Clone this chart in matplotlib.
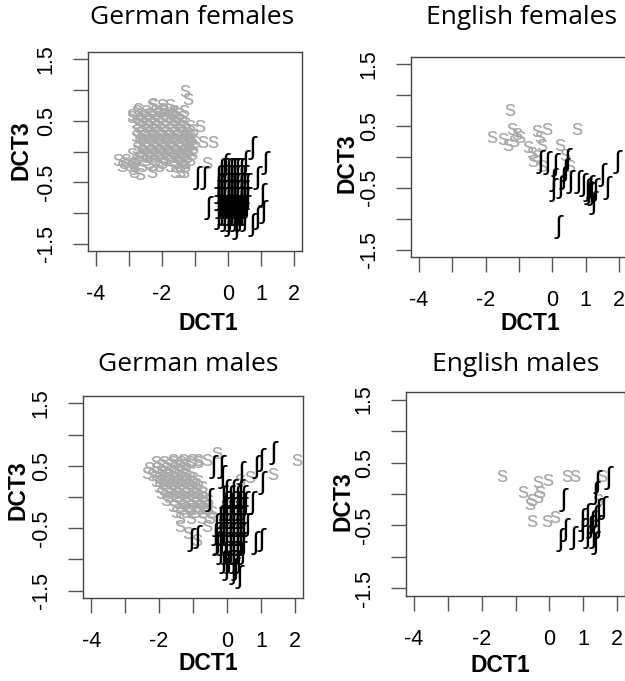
import matplotlib
matplotlib.use("Agg")
import matplotlib.pyplot as plt

W, H = 625, 681
GREY = "#a8a8a8"
FRAME = "#444444"
SANS = ["Liberation Sans", "DejaVu Sans"]

# German females: "s" tokens (grey), rows of (DCT3, [DCT1 ...]) plus loose points
gf_s_rows = [
    (0.75, [-2.3, -2.0, -1.75]),
    (0.65, [-2.75, -2.5, -2.2, -1.95, -1.65, -1.35]),
    (0.60, [-2.65, -2.4, -2.15, -1.9, -1.7, -1.5]),
    (0.55, [-2.9, -2.6, -2.35, -2.1, -1.85, -1.6, -1.4]),
    (0.50, [-2.7, -2.45, -2.2, -1.95, -1.7, -1.45]),
    (0.45, [-2.8, -2.55, -2.3, -2.05, -1.8, -1.55, -1.3]),
    (0.40, [-2.65, -2.4, -2.15, -1.9, -1.65, -1.4, -1.15]),
    (0.35, [-2.75, -2.5, -2.25, -2.0, -1.75, -1.5, -1.25, -1.05]),
    (0.30, [-2.7, -2.45, -2.2, -1.95, -1.7, -1.45, -1.25]),
    (0.25, [-2.8, -2.6, -2.35, -2.1, -1.85, -1.6, -1.35, -1.15]),
    (0.20, [-2.6, -2.35, -2.1, -1.85, -1.6, -1.35, -1.1]),
    (0.15, [-2.7, -2.45, -2.2, -1.95, -1.7, -1.45, -1.2, -1.0]),
    (0.10, [-2.6, -2.35, -2.1, -1.85, -1.6, -1.35, -1.15]),
    (0.05, [-2.75, -2.5, -2.25, -2.0, -1.75, -1.5, -1.25, -1.05]),
    (0.00, [-2.65, -2.4, -2.15, -1.9, -1.65, -1.4, -1.2]),
    (-0.05, [-2.9, -2.6, -2.35, -2.1, -1.85, -1.6, -1.35, -1.1]),
    (-0.10, [-2.7, -2.45, -2.2, -1.95, -1.7, -1.5, -1.25]),
    (-0.15, [-3.1, -2.8, -2.5, -2.2, -1.9, -1.65, -1.4, -1.15]),
    (-0.20, [-2.85, -2.4, -2.0, -1.55, -1.3]),
    (-0.25, [-3.2, -2.95, -2.6, -2.1, -1.75, -1.45]),
    (-0.35, [-2.85, -2.3, -1.6, -1.35]),
]
gf_s_loose = [
    (-1.30, 0.97), (-1.21, 0.84), (-0.85, 0.40), (-0.76, 0.14), (-0.45, 0.14),
    (-0.64, -0.19), (-3.33, -0.14), (-3.15, -0.19), (-2.88, -0.30), (-2.67, -0.38),
    (-2.27, -0.22), (-1.45, -0.35), (-1.30, -0.25), (-2.91, 0.59), (-2.73, 0.68),
    (-2.27, 0.76), (-1.97, 0.68), (-1.67, 0.64),
]
# German females: esh tokens (black)
gf_sh_rows = [
    (-0.30, [-0.2, -0.1, 0.0, 0.1, 0.2, 0.3, 0.4]),
    (-0.42, [-0.3, -0.2, -0.1, 0.0, 0.1, 0.2, 0.3, 0.4, 0.5]),
    (-0.54, [-0.3, -0.2, -0.1, 0.0, 0.1, 0.2, 0.3, 0.4, 0.5, 0.6]),
    (-0.66, [-0.3, -0.2, -0.1, 0.0, 0.1, 0.2, 0.3, 0.4, 0.5]),
    (-0.78, [-0.3, -0.2, -0.1, 0.0, 0.1, 0.2, 0.3, 0.4, 0.5, 0.6]),
    (-0.90, [-0.25, -0.15, -0.05, 0.05, 0.15, 0.25, 0.35, 0.45, 0.55]),
    (-1.02, [-0.2, -0.1, 0.0, 0.1, 0.2, 0.3, 0.4, 0.5]),
    (-1.12, [-0.1, 0.05, 0.2, 0.35, 0.5]),
]
gf_sh_loose = [
    (0.73, 0.06), (1.12, -0.19), (-0.91, -0.43), (-0.70, -0.43), (-0.60, -0.92),
    (-0.09, -0.22), (0.52, -0.17), (0.88, -0.43), (1.03, -0.71), (1.06, -0.99),
    (0.88, -1.08), (-0.30, -1.08), (0.27, -1.25), (0.00, -1.20), (0.73, -1.20),
]

# English females
ef_s = [
    (-1.26, 0.76), (-1.80, 0.32), (-1.47, 0.28), (-1.32, 0.19), (-1.20, 0.44),
    (-1.05, 0.36), (-0.96, 0.31), (-1.15, 0.25), (-0.45, 0.41), (-0.15, 0.44),
    (0.75, 0.44), (-0.36, 0.31), (-0.72, 0.15), (-0.60, 0.06), (-0.45, 0.00),
    (-0.57, -0.08), (-0.30, 0.19), (0.24, 0.19), (0.39, 0.03), (0.54, -0.16),
    (-0.30, -0.16),
]
ef_sh = [
    (-0.36, -0.08), (-0.15, -0.10), (0.09, -0.13), (0.45, -0.05), (0.39, -0.21),
    (0.03, -0.37), (0.03, -0.53), (0.24, -0.49), (0.54, -0.41), (0.78, -0.41),
    (0.93, -0.45), (1.05, -0.53), (1.14, -0.49), (1.08, -0.58), (1.29, -0.53),
    (1.23, -0.75), (1.50, -0.29), (1.65, -0.50), (1.95, -0.08), (0.18, -1.13),
    (0.33, -0.34), (1.18, -0.60),
]

# German males
gm_s_rows = [
    (0.55, [-2.1, -1.85, -1.6, -1.35, -1.1, -0.85]),
    (0.50, [-1.95, -1.7, -1.45, -1.2]),
    (0.45, [-2.3, -2.05, -1.8, -1.55, -1.3]),
    (0.40, [-2.1, -1.85, -1.6, -1.35, -1.1]),
    (0.35, [-2.2, -1.95, -1.7, -1.45, -1.2]),
    (0.30, [-2.0, -1.75, -1.5, -1.25, -1.0]),
    (0.25, [-2.1, -1.85, -1.6, -1.35, -1.1, -0.85]),
    (0.20, [-1.9, -1.65, -1.4, -1.15, -0.9]),
    (0.15, [-2.0, -1.75, -1.5, -1.25, -1.0, -0.75]),
    (0.10, [-1.85, -1.6, -1.35, -1.1, -0.85]),
    (0.05, [-1.95, -1.7, -1.45, -1.2, -0.95, -0.7]),
    (0.00, [-1.7, -1.45, -1.2, -0.95, -0.7]),
    (-0.05, [-1.8, -1.55, -1.3, -1.05, -0.8, -0.55]),
    (-0.10, [-1.45, -1.2, -0.95, -0.7]),
    (-0.15, [-1.6, -1.35, -1.1, -0.85, -0.6]),
    (-0.20, [-1.3, -1.05, -0.8, -0.55]),
    (-0.25, [-1.5, -1.2, -0.95, -0.7, -0.45]),
    (-0.35, [-1.4, -1.05, -0.75, -0.5]),
]
gm_s_loose = [
    (-1.59, 0.59), (-1.29, 0.59), (-1.03, 0.59), (-0.85, 0.59), (-0.59, 0.59),
    (-0.29, 0.70), (2.06, 0.59), (1.35, 0.36), (0.38, 0.27), (0.68, 0.32),
    (-1.38, -0.48), (-1.15, -0.58), (-0.88, -0.69), (-0.59, -0.48), (-2.35, 0.38),
]
gm_sh_rows = [
    (0.10, [0.0, 0.2, 0.4]),
    (0.00, [-0.1, 0.1, 0.3, 0.5]),
    (-0.10, [-0.05, 0.15, 0.35, 0.55]),
    (-0.20, [-0.1, 0.0, 0.1, 0.2, 0.3, 0.4, 0.5]),
    (-0.32, [-0.2, -0.1, 0.0, 0.1, 0.2, 0.3, 0.4, 0.5]),
    (-0.45, [-0.3, -0.2, -0.1, 0.0, 0.1, 0.2, 0.3, 0.4, 0.5, 0.6]),
    (-0.60, [-0.35, -0.2, -0.1, 0.0, 0.1, 0.2, 0.3, 0.4, 0.5]),
    (-0.75, [-0.3, -0.15, 0.0, 0.1, 0.2, 0.3, 0.4, 0.5]),
    (-0.90, [-0.2, -0.05, 0.1, 0.2, 0.3, 0.45]),
    (-1.05, [-0.1, 0.05, 0.2, 0.35]),
    (-1.15, [0.0, 0.25]),
]
gm_sh_loose = [
    (-0.41, 0.48), (-0.15, 0.48), (0.44, 0.38), (0.88, 0.48), (1.03, 0.59),
    (1.38, 0.70), (1.06, 0.22), (-0.50, -0.05), (-0.88, -0.64), (-1.03, -0.69),
    (-0.29, -0.74), (0.76, -0.10), (1.03, -0.69), (0.85, -0.74), (0.18, -1.22),
    (0.38, -1.28), (-0.12, 0.32),
]

# English males
em_s = [
    (-1.39, 0.27), (-0.33, 0.19), (-0.03, 0.22), (0.53, 0.27), (0.77, 0.27),
    (-0.77, 0.03), (-0.27, 0.02), (-0.50, -0.10), (-0.33, -0.06), (-0.56, -0.17),
    (-0.50, -0.44), (-0.06, -0.44), (0.18, -0.38), (1.57, 0.27), (1.45, -0.10),
]
em_sh = [
    (1.42, 0.19), (1.75, 0.25), (0.41, -0.10), (0.47, -0.57), (0.33, -0.73),
    (0.71, -0.70), (0.98, -0.41), (1.12, -0.33), (1.21, -0.52), (1.12, -0.68),
    (1.30, -0.68), (1.36, -0.78), (1.36, -0.37), (1.45, -0.25), (1.60, -0.22),
    (1.27, -0.44), (1.36, 0.02), (1.45, -0.52), (0.98, -0.57),
]

x_ticks = [-4, -3, -2, -1, 0, 1, 2]
x_labels = ["-4", "", "-2", "", "0", "1", "2"]
y_ticks = [-1.5, -1.0, -0.5, 0.0, 0.5, 1.0, 1.5]
y_labels = ["-1.5", "", "-0.5", "", "0.5", "", "1.5"]


def flatten(rows, loose):
    pts = [(x, y) for y, xs in rows for x in xs]
    return pts + loose


def px(x, y):
    return x / W, 1 - y / H


def draw_panel(fig, box, title, title_xy, xlab_xy, ylab_xy, s_pts, sh_pts):
    l, t, r, b = box
    ax = fig.add_axes([l / W, 1 - b / H, (r - l) / W, (b - t) / H])
    ax.set_xlim(-4.24, 2.24)
    ax.set_ylim(-1.62, 1.62)
    for x, y in s_pts:
        ax.text(x, y, "s", color=GREY, fontsize=16, family=SANS,
                ha="center", va="center", clip_on=True)
    for x, y in sh_pts:
        ax.text(x, y, "\u0283", color="black", fontsize=19, family=SANS,
                ha="center", va="center", clip_on=True)
    ax.set_xticks(x_ticks)
    ax.set_xticklabels(x_labels, family=SANS, fontsize=15.5)
    ax.set_yticks(y_ticks)
    ax.set_yticklabels(y_labels, family=SANS, fontsize=15.5,
                       rotation=90, va="center")
    ax.tick_params(direction="out", length=10.5, width=1, color="#555555")
    ax.tick_params(axis="x", pad=13)
    ax.tick_params(axis="y", pad=12)
    for sp in ax.spines.values():
        sp.set_color(FRAME)
        sp.set_linewidth(1)
    fig.text(*px(*title_xy), title, family="Open Sans", fontsize=19,
             ha="center", va="center")
    fig.text(*px(*xlab_xy), "DCT1", family=SANS, fontsize=16.5,
             fontweight="bold", ha="center", va="center")
    fig.text(*px(*ylab_xy), "DCT3", family=SANS, fontsize=16.5,
             fontweight="bold", ha="center", va="center", rotation=90)
    return ax


fig = plt.figure(figsize=(W / 100, H / 100), dpi=100)

draw_panel(fig, (88, 52, 302, 251), "German females", (192, 18),
           (208, 323), (21, 150),
           flatten(gf_s_rows, gf_s_loose), flatten(gf_sh_rows, gf_sh_loose))
draw_panel(fig, (411, 57, 627, 257), "English females", (521, 18),
           (530, 324), (347, 163), ef_s, ef_sh)
draw_panel(fig, (83, 396, 303, 598), "German males", (188, 365),
           (208, 664), (18, 490),
           flatten(gm_s_rows, gm_s_loose), flatten(gm_sh_rows, gm_sh_loose))
draw_panel(fig, (406, 392, 625, 596), "English males", (516, 365),
           (500, 665), (343, 501), em_s, em_sh)

fig.savefig("out.png", dpi=100)
